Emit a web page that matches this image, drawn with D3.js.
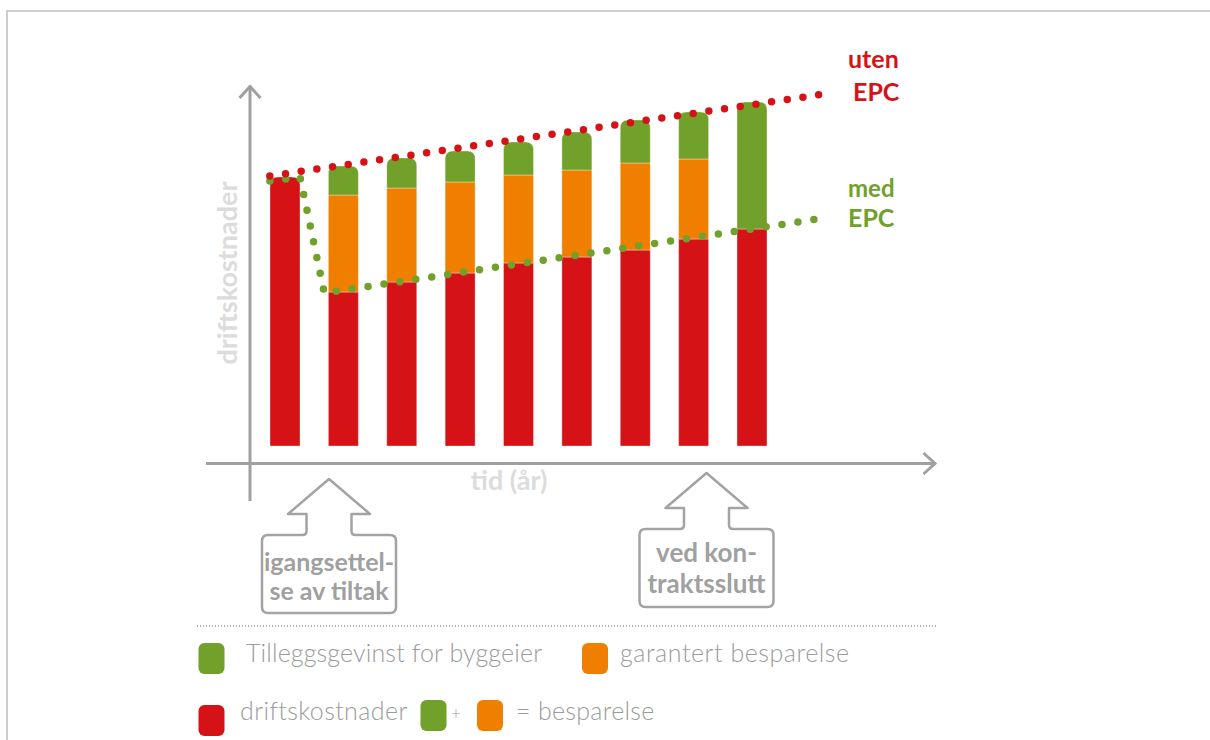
<!DOCTYPE html>
<html>
<head>
<meta charset="utf-8">
<script src="https://cdn.jsdelivr.net/npm/d3@7/dist/d3.min.js"></script>
<style>
  html, body { margin: 0; padding: 0; background: #fff; }
  svg { display: block; font-family: Lato, "Open Sans", sans-serif; }
</style>
</head>
<body>
<svg id="chart" width="1210" height="740"></svg>
<script>
// ---------- data ----------
const years = [1, 2, 3, 4, 5, 6, 7, 8, 9];
const driftskostnader = [269, 154, 164, 173, 183, 189, 196, 207, 217];
const garantertBesparelse = [0, 97, 94, 91, 88, 87, 87, 80, 0];
const tilleggsgevinst = [0, 29, 30, 31, 33, 38, 43, 47, 127];
// dotted lines: t = position in year-index units, v = cost
const utenEPC = [{ t: -0.26, v: 270 }, { t: 9.3, v: 352.5 }];
const medEPC = [{ t: -0.26, v: 265 }, { t: 0.257, v: 269 }, { t: 0.673, v: 153 }, { t: 9.3, v: 228.5 }];
const seriesNames = ["Tilleggsgevinst for byggeier", "garantert besparelse", "driftskostnader"];

const RED = "#d51317", ORANGE = "#f07f00", GREEN = "#71a02b", GREY = "#a0a0a0";

const svg = d3.select("#chart");

// frame
svg.append("path").attr("d", "M7,740 L7,11 L1210,11")
  .attr("fill", "none").attr("stroke", "#bdbdbd").attr("stroke-width", 1.5);

const x = d3.scaleLinear().domain([0, 8]).range([285, 752]);
const y = d3.scaleLinear().domain([0, 360]).range([446, 86]);
const barW = 30, r = 8;

// axes (arrows)
const axisG = svg.append("g").attr("stroke", GREY).attr("stroke-width", 3).attr("fill", "none");
axisG.append("line").attr("x1", 250).attr("x2", 250).attr("y1", 86).attr("y2", 501);
axisG.append("path").attr("d", "M239.5,98 L250,86.5 L260.5,98");
axisG.append("line").attr("x1", 206).attr("x2", 935).attr("y1", 463.5).attr("y2", 463.5);
axisG.append("path").attr("d", "M923.5,453 L935,463.5 L923.5,474");

svg.append("text").attr("transform", "translate(237,273) rotate(-90)")
  .attr("text-anchor", "middle").attr("font-weight", 700).attr("font-size", 27)
  .attr("fill", "#dcdcdc").text("driftskostnader");
svg.append("text").attr("x", 509).attr("y", 490)
  .attr("text-anchor", "middle").attr("font-weight", 700).attr("font-size", 27)
  .attr("fill", "#dcdcdc").text("tid (år)");

// ---------- bars ----------
function segPath(x0, y0, y1, rounded) {
  if (!rounded) return `M${x0},${y1}V${y0}H${x0 + barW}V${y1}Z`;
  return `M${x0},${y1}V${y0 + r}Q${x0},${y0} ${x0 + r},${y0}H${x0 + barW - r}Q${x0 + barW},${y0} ${x0 + barW},${y0 + r}V${y1}Z`;
}
const barsG = svg.append("g");
years.forEach((yr, i) => {
  const segs = [
    { v: driftskostnader[i], c: RED },
    { v: garantertBesparelse[i], c: ORANGE },
    { v: tilleggsgevinst[i], c: GREEN }
  ];
  let acc = 0;
  const nonzero = segs.filter(s => s.v > 0);
  const top = nonzero[nonzero.length - 1];
  segs.forEach(s => {
    if (s.v <= 0) return;
    const y0 = y(acc + s.v), y1 = y(acc);
    barsG.append("path")
      .attr("d", segPath(x(i) - barW / 2, y0, y1, s === top))
      .attr("fill", s.c)
      .attr("stroke", "#ffffff").attr("stroke-opacity", 0.35).attr("stroke-width", 1);
    acc += s.v;
  });
});

// ---------- dotted lines ----------
const line = d3.line().x(d => x(d.t)).y(d => y(d.v));
svg.append("path").attr("d", line(medEPC)).attr("fill", "none")
  .attr("stroke", GREEN).attr("stroke-width", 7.5).attr("stroke-linecap", "round")
  .attr("stroke-dasharray", "0 16.1");
svg.append("path").attr("d", line(utenEPC)).attr("fill", "none")
  .attr("stroke", RED).attr("stroke-width", 7.5).attr("stroke-linecap", "round")
  .attr("stroke-dasharray", "0 15.85");

// line labels
const lab = (txt, xx, yy, c, fs) => svg.append("text").attr("x", xx).attr("y", yy)
  .attr("font-weight", 700).attr("font-size", fs).attr("fill", c).text(txt);
lab("uten", 848, 68, RED, 25);
lab("EPC", 853, 101, RED, 25);
lab("med", 848, 197, GREEN, 24);
lab("EPC", 848, 227, GREEN, 25);

// ---------- callouts ----------
function callout(cx, tip, lines, baselines, fs) {
  const wy = tip + 35, bt = tip + 56, bb = bt + 78, hw = 67, ww = 41, sw = 22.5, cr = 6;
  const d = `M${cx},${tip} L${cx + ww},${wy} L${cx + sw},${wy} L${cx + sw},${bt - 4} Q${cx + sw},${bt} ${cx + sw + 4},${bt}
    L${cx + hw - cr},${bt} Q${cx + hw},${bt} ${cx + hw},${bt + cr} L${cx + hw},${bb - cr} Q${cx + hw},${bb} ${cx + hw - cr},${bb}
    L${cx - hw + cr},${bb} Q${cx - hw},${bb} ${cx - hw},${bb - cr} L${cx - hw},${bt + cr} Q${cx - hw},${bt} ${cx - hw + cr},${bt}
    L${cx - sw - 4},${bt} Q${cx - sw},${bt} ${cx - sw},${bt - 4} L${cx - sw},${wy} L${cx - ww},${wy} Z`;
  svg.append("path").attr("d", d).attr("fill", "none").attr("stroke", "#a3a3a3")
    .attr("stroke-width", 2.5).attr("stroke-linejoin", "round");
  lines.forEach((t, k) => svg.append("text").attr("x", cx).attr("y", baselines[k])
    .attr("text-anchor", "middle").attr("font-weight", 700).attr("font-size", fs)
    .attr("fill", "#a0a0a0").text(t));
}
callout(329, 479, ["igangsettel-", "se av tiltak"], [571, 600], 25);
callout(706.5, 473, ["ved kon-", "traktsslutt"], [562, 593], 26);

// separator
svg.append("line").attr("x1", 197).attr("x2", 936).attr("y1", 626).attr("y2", 626)
  .attr("stroke", "#9a9a9a").attr("stroke-width", 1.5).attr("stroke-dasharray", "1 2");

// ---------- legend ----------
const sw = (xx, yy, c) => svg.append("rect").attr("x", xx).attr("y", yy).attr("width", 26).attr("height", 31)
  .attr("rx", 6).attr("fill", c);
const lt = (txt, xx, yy, fs, ls) => svg.append("text").attr("x", xx).attr("y", yy)
  .attr("font-weight", 300).attr("font-size", fs).attr("letter-spacing", ls)
  .attr("fill", "#9b9b9b").text(txt);
sw(198.5, 643, GREEN); lt(seriesNames[0], 246, 662, 25, 0.15);
sw(582, 643, ORANGE); lt(seriesNames[1], 620, 662, 25, 0.55);
sw(198.5, 705, RED); lt(seriesNames[2], 240, 720, 25, 0.4);
sw(420.5, 700, GREEN); lt("+", 451, 719, 17, 0);
sw(477, 700, ORANGE); lt("= besparelse", 516, 720, 25, 0.3);
</script>
</body>
</html>
